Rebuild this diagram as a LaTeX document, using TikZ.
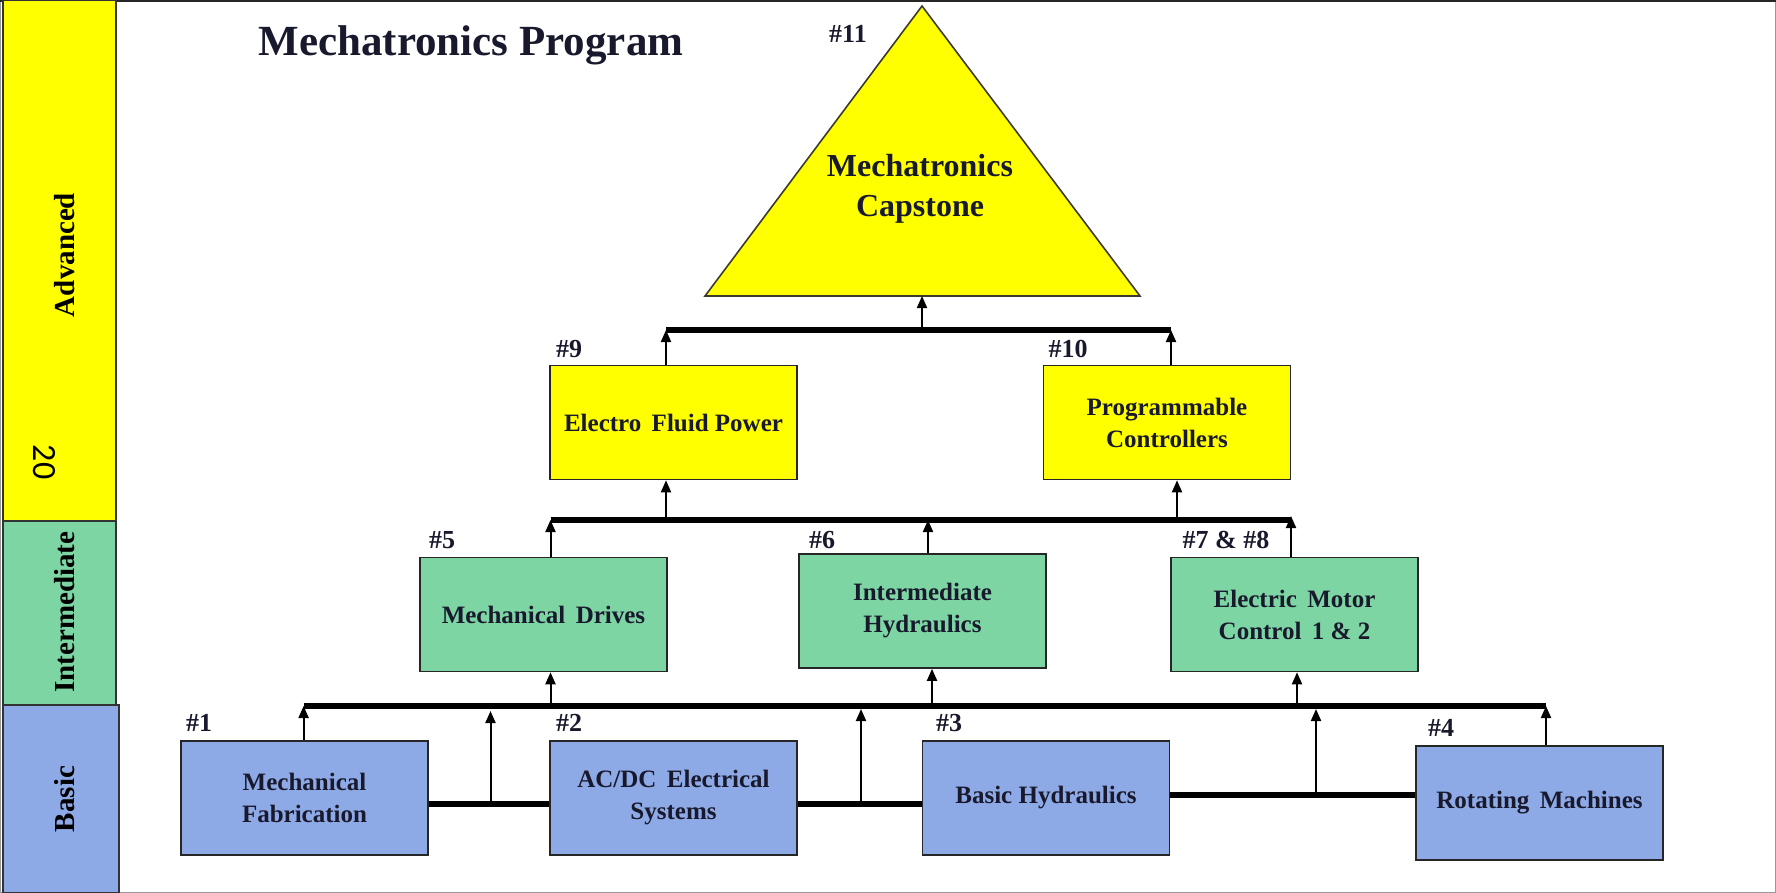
\documentclass[tikz,border=0pt]{standalone}
\usepackage{fontspec}
\setmainfont{Liberation Serif}
\newfontfamily\numfont{Carlito}
\usetikzlibrary{arrows.meta}
\definecolor{advyellow}{RGB}{255,255,0}
\definecolor{intgreen}{RGB}{125,213,163}
\definecolor{basicblue}{RGB}{142,170,230}
\definecolor{txt}{RGB}{25,25,45}
\begin{document}
\begin{tikzpicture}[x=0.5pt,y=-0.5pt,
  box/.style={draw=black!85, line width=0.8pt, minimum width=123.5pt, minimum height=57pt,
    align=center, inner sep=2pt, text=txt, font=\bfseries\fontsize{12.5}{16}\selectfont},
  bbox/.style={box, fill=basicblue},
  ibox/.style={box, fill=intgreen},
  abox/.style={box, fill=advyellow},
  lbl/.style={text=txt, inner sep=0pt, font=\bfseries\fontsize{13}{15}\selectfont},
  bus/.style={line width=2.8pt},
  arr/.style={line width=1pt, -{Triangle[length=6pt,width=5pt]}},
  band/.style={draw=black!80, line width=0.8pt},
  bandtxt/.style={rotate=90, text=black, inner sep=0pt, font=\bfseries\fontsize{14.5}{16}\selectfont}]
\useasboundingbox (0,0) rectangle (1776,893);
% frame
\draw[black!40, line width=0.6pt] (0.5,0.5) rectangle (1775.5,892.5);
\draw[black!85, line width=1.5pt] (0,1) -- (1776,1);
% level band
\draw[band, fill=advyellow] (3,0) rectangle (116,521);
\draw[band, fill=intgreen] (3,521) rectangle (116,705);
\draw[band, fill=basicblue] (3,705) rectangle (119,893);
\node[bandtxt] (advt) at (65,255) {Advanced};
\node[rotate=-90, inner sep=0pt, font=\numfont\fontsize{17}{18}\selectfont] (num) at (44,462) {20};
\node[bandtxt] (intt) at (65,612) {Intermediate};
\node[bandtxt] (bast) at (65,799) {Basic};
% title
\node[text=txt, inner sep=0pt, font=\bfseries\fontsize{21.5}{24}\selectfont] (title) at (471,45) {Mechatronics Program};
% capstone triangle
\draw[draw=black!75!olive, line width=0.8pt, fill=advyellow] (922,6) -- (1140,296) -- (705,296) -- cycle;
\node[text=txt, align=center, font=\bfseries\fontsize{16}{20}\selectfont] (cap) at (920,189) {Mechatronics\\Capstone};
\coordinate (capbase) at (922,296);
\node[lbl] (l11) at (848,34) {\#11};
% advanced boxes
\node[abox] (b9) at (673.5,422.5) {Electro\, Fluid Power};
\node[abox] (b10) at (1167,422.5) {Programmable\\Controllers};
\node[lbl] (l9) at (569,349) {\#9};
\node[lbl] (l10) at (1068,349) {\#10};
% intermediate boxes
\node[ibox] (b5) at (543.5,614.5) {Mechanical\, Drives};
\node[ibox] (b6) at (922.5,611) {Intermediate\\Hydraulics};
\node[ibox] (b7) at (1294.5,614.5) {Electric\, Motor\\Control\, 1 \& 2};
\node[lbl] (l5) at (442,540) {\#5};
\node[lbl] (l6) at (822,540) {\#6};
\node[lbl] (l7) at (1226,540) {\#7 \& \#8};
% basic boxes
\node[bbox] (b1) at (304.5,798) {Mechanical\\Fabrication};
\node[bbox] (b2) at (673.5,798) {AC/DC\, Electrical\\Systems};
\node[bbox] (b3) at (1046,798) {Basic Hydraulics};
\node[bbox] (b4) at (1539.5,803) {Rotating\, Machines};
\node[lbl] (l1) at (199,723) {\#1};
\node[lbl] (l2) at (569,723) {\#2};
\node[lbl] (l3) at (949,723) {\#3};
\node[lbl] (l4) at (1441,728) {\#4};
% top bus
\coordinate (tL) at (666,330);
\coordinate (tR) at (1171,330);
\coordinate (tM) at (922,330);
\draw[bus] (tL) -- (tR);
\draw[arr] (tM) -- (capbase);
\draw[arr] (b9.north -| tL) -- (tL);
\draw[arr] (b10.north -| tR) -- (tR);
% middle bus
\coordinate (mL) at (550.5,520);
\coordinate (mR) at (1291,520);
\draw[bus] (mL) -- (mR);
\coordinate (m9) at (666,520);
\coordinate (m10) at (1177,520);
\draw[arr] (m9) -- (b9.south -| m9);
\draw[arr] (m10) -- (b10.south -| m10);
\draw[arr] (b5.north -| mL) -- (mL);
\coordinate (m6) at (928,520);
\draw[arr] (b6.north -| m6) -- (m6);
\coordinate (m7) at (1291,516);
\draw[arr] (b7.north -| m7) -- (m7);
% bottom bus
\coordinate (bL) at (303.6,706);
\coordinate (bR) at (1546,706);
\draw[bus] (bL) -- (bR);
\coordinate (u5) at (550.5,706);
\coordinate (u6) at (932,706);
\coordinate (u7) at (1297,706);
\draw[arr] (u5) -- (b5.south -| u5);
\draw[arr] (u6) -- (b6.south -| u6);
\draw[arr] (u7) -- (b7.south -| u7);
\draw[arr] (b1.north -| bL) -- (bL);
\draw[arr] (b4.north -| bR) -- (bR);
% links between basic boxes
\coordinate (k12) at (490.5,804);
\coordinate (k23) at (861,804);
\coordinate (k34) at (1316,795);
\draw[bus] (b1.east |- k12) -- (b2.west |- k12);
\draw[bus] (b2.east |- k23) -- (b3.west |- k23);
\draw[bus] (b3.east |- k34) -- (b4.west |- k34);
\draw[arr] (k12) -- (490.5,711);
\draw[arr] (k23) -- (861,709);
\draw[arr] (k34) -- (1316,709);
\end{tikzpicture}
\end{document}
